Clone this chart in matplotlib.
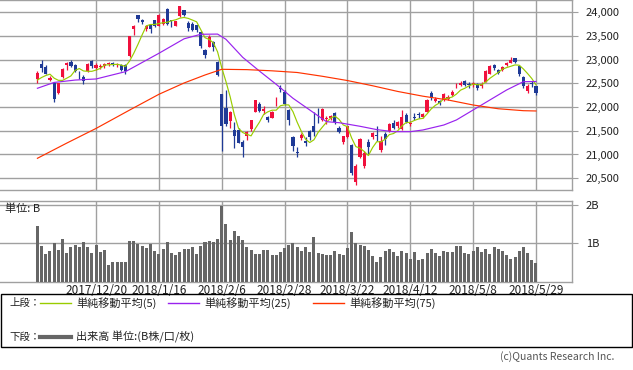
import matplotlib
matplotlib.use("Agg")
import matplotlib.pyplot as plt
import numpy as np
import pandas as pd
from matplotlib.lines import Line2D
from matplotlib.patches import Rectangle

plt.rcParams['font.family'] = ['Noto Sans CJK JP', 'DejaVu Sans']

# trading days shown on the chart
dates = (["2017/11/30"]
         + ["2017/12/%d" % d for d in [1, 4, 5, 6, 7, 8, 11, 12, 13, 14, 15, 18, 19, 20, 21, 22, 25, 26, 27, 28, 29]]
         + ["2018/1/%d" % d for d in [4, 5, 9, 10, 11, 12, 15, 16, 17, 18, 19, 22, 23, 24, 25, 26, 29, 30, 31]]
         + ["2018/2/%d" % d for d in [1, 2, 5, 6, 7, 8, 9, 13, 14, 15, 16, 19, 20, 21, 22, 23, 26, 27, 28]]
         + ["2018/3/%d" % d for d in [1, 2, 5, 6, 7, 8, 9, 12, 13, 14, 15, 16, 19, 20, 22, 23, 26, 27, 28, 29, 30]]
         + ["2018/4/%d" % d for d in [2, 3, 4, 5, 6, 9, 10, 11, 12, 13, 16, 17, 18, 19, 20, 23, 24, 25, 26, 27]]
         + ["2018/5/%d" % d for d in [1, 2, 7, 8, 9, 10, 11, 14, 15, 16, 17, 18, 21, 22, 23, 24, 25, 28, 29]])

opens = [22597, 22916, 22855, 22570, 22515, 22300, 22630, 22890, 22958, 22880,
         22705, 22640, 22765, 22980, 22830, 22840, 22860, 22905, 22930, 22880,
         22890, 22890, 23073, 23643, 23948, 23833, 23656, 23731, 23827, 23721,
         23755, 24078, 23835, 23720, 23920, 24044, 23770, 23750, 23730, 23590,
         23200, 23276, 23380, 22958, 22270, 21990, 21700, 21520, 21520, 21270,
         21380, 21530, 21903, 22065, 21925, 21800, 21765, 22140, 22395, 22325,
         21940, 21363, 21060, 21340, 21280, 21500, 21600, 21830, 21730, 21740,
         21760, 21884, 21550, 21270, 21363, 21201, 20429, 20954, 20757, 21270,
         21375, 21411, 21095, 21432, 21500, 21658, 21600, 21530, 21833, 21640,
         21790, 21850, 21800, 21903, 22291, 22130, 22130, 22150, 22180, 22255,
         22460, 22460, 22557, 22480, 22470, 22487, 22450, 22536, 22698, 22888,
         22783, 22783, 22888, 22937, 23030, 22867, 22641, 22346, 22500, 22445]
highs = [22760, 22994, 22880, 22650, 22530, 22515, 22820, 22960, 22995, 22900,
         22770, 22680, 22920, 22990, 22935, 22900, 22920, 22950, 22950, 22925,
         22910, 22900, 23506, 23730, 23952, 23864, 23734, 23759, 23833, 23962,
         23885, 24084, 23837, 23825, 24129, 24050, 23820, 23787, 23740, 23600,
         23220, 23513, 23400, 22970, 22280, 22360, 21920, 21690, 21550, 21300,
         21500, 21730, 22150, 22100, 22030, 21810, 21920, 22220, 22466, 22350,
         21950, 21380, 21165, 21460, 21375, 21520, 21890, 21975, 21980, 21820,
         21830, 21900, 21600, 21400, 21600, 21220, 20800, 21350, 21080, 21320,
         21480, 21600, 21380, 21480, 21660, 21720, 21700, 21940, 21880, 21700,
         21870, 21900, 21880, 22180, 22330, 22220, 22150, 22290, 22260, 22350,
         22500, 22560, 22570, 22520, 22530, 22500, 22520, 22780, 22888, 22900,
         22800, 22860, 22960, 23050, 23040, 22880, 22650, 22480, 22560, 22450]
lows = [22510, 22750, 22690, 22540, 22114, 22280, 22610, 22780, 22840, 22730,
        22600, 22480, 22750, 22830, 22790, 22800, 22830, 22870, 22860, 22850,
        22760, 22700, 23065, 23520, 23789, 23755, 23601, 23570, 23685, 23701,
        23740, 23737, 23690, 23700, 23890, 23920, 23600, 23600, 23590, 23240,
        23030, 23260, 23190, 22660, 21078, 21600, 21560, 21130, 21240, 20950,
        21300, 21500, 21900, 21900, 21860, 21680, 21760, 22025, 22325, 22040,
        21622, 21080, 20940, 21300, 21180, 21300, 21400, 21658, 21700, 21640,
        21720, 21640, 21450, 21230, 21340, 20560, 20347, 20930, 20720, 21020,
        21320, 21280, 21050, 21200, 21480, 21540, 21560, 21510, 21660, 21600,
        21720, 21780, 21780, 21890, 22150, 22100, 22040, 22130, 22150, 22230,
        22400, 22450, 22440, 22400, 22430, 22360, 22400, 22530, 22690, 22790,
        22700, 22760, 22870, 22920, 22920, 22660, 22400, 22290, 22420, 22250]
closes = [22724, 22819, 22707, 22622, 22177, 22498, 22811, 22938, 22866, 22758,
          22694, 22553, 22901, 22868, 22891, 22866, 22902, 22939, 22892, 22911,
          22783, 22764, 23506, 23714, 23849, 23788, 23710, 23653, 23714, 23951,
          23868, 23763, 23808, 23816, 24124, 23940, 23669, 23631, 23629, 23291,
          23098, 23486, 23274, 22682, 21610, 21645, 21890, 21382, 21244, 21154,
          21464, 21720, 22149, 21925, 21970, 21736, 21892, 22153, 22389, 22068,
          21724, 21181, 21042, 21417, 21252, 21368, 21469, 21824, 21968, 21777,
          21803, 21676, 21480, 21380, 21591, 20617, 20766, 21317, 21031, 21159,
          21454, 21388, 21292, 21319, 21645, 21567, 21678, 21794, 21687, 21660,
          21778, 21835, 21847, 22158, 22191, 22162, 22088, 22278, 22215, 22319,
          22467, 22508, 22472, 22467, 22508, 22408, 22497, 22758, 22865, 22818,
          22717, 22838, 22930, 23002, 22960, 22689, 22437, 22450, 22481, 22290]
# last four closes before the window, needed for the first 5-day averages
prev_closes = [22551, 22496, 22486, 22597]

# volume, billions of shares
volume = [1.46, 0.93, 0.71, 0.79, 1.00, 0.82, 1.12, 0.74, 0.90, 0.95,
          0.90, 1.03, 0.90, 0.74, 0.95, 0.77, 0.82, 0.44, 0.50, 0.50,
          0.52, 0.50, 1.06, 1.06, 0.98, 0.93, 0.87, 0.98, 0.79, 0.71,
          0.85, 1.03, 0.74, 0.68, 0.77, 0.85, 0.85, 0.90, 0.71, 0.93,
          1.03, 1.06, 1.03, 1.12, 1.97, 1.49, 1.09, 1.33, 1.20, 1.09,
          0.90, 0.82, 0.71, 0.71, 0.82, 0.82, 0.68, 0.68, 0.77, 0.87,
          0.95, 1.01, 0.90, 0.79, 0.90, 0.77, 1.17, 0.74, 0.71, 0.68,
          0.68, 0.79, 0.71, 0.68, 0.87, 1.28, 1.01, 0.95, 0.93, 0.82,
          0.66, 0.50, 0.64, 0.79, 0.84, 0.77, 0.66, 0.79, 0.74, 0.60,
          0.77, 0.55, 0.60, 0.74, 0.84, 0.74, 0.66, 0.79, 0.77, 0.77,
          0.93, 0.93, 0.74, 0.71, 0.79, 0.90, 0.77, 0.84, 0.71, 0.90,
          0.84, 0.79, 0.68, 0.60, 0.64, 0.79, 0.90, 0.74, 0.55, 0.47]

# 25/75-day averages depend on history before the window
ma25_idx = [0, 4, 9, 14, 21, 29, 35, 39, 43, 45, 49, 53, 57, 61, 65, 69, 72, 77,
            81, 85, 89, 92, 97, 100, 104, 108, 112, 116, 119]
ma25_val = [22397, 22520, 22570, 22593, 22747, 23135, 23440, 23536, 23540, 23430,
            23050, 22760, 22480, 22186, 21939, 21692, 21671, 21595, 21525, 21481,
            21481, 21517, 21622, 21728, 21939, 22150, 22361, 22536, 22540]
ma75_idx = [0, 7, 14, 22, 29, 35, 40, 44, 50, 56, 62, 68, 74, 80, 86, 92, 98,
            104, 110, 116, 119]
ma75_val = [20920, 21240, 21550, 21937, 22270, 22508, 22677, 22797, 22790, 22765,
            22730, 22650, 22560, 22450, 22330, 22230, 22150, 22044, 21965, 21924, 21918]

tick_idx = [14, 29, 44, 59, 74, 89, 104, 119]

UP = "#f0103c"
DOWN = "#1f3a96"
GRID = "#a0a0a0"
C5, C25, C75 = "#99cc00", "#9922ee", "#ff3300"

W, H = 633, 370
fig = plt.figure(figsize=(W / 100, H / 100), dpi=100)
ax = fig.add_axes([0, 1 - 190 / H, 572 / W, 190 / H])
axv = fig.add_axes([0, 1 - 281.5 / H, 572 / W, 80.5 / H])

x = np.arange(len(closes))
o, h, l, c = map(np.array, (opens, highs, lows, closes))
ma5 = pd.Series(prev_closes + closes).rolling(5).mean().to_numpy()[len(prev_closes):]

# candles
cols = np.where(c >= o, UP, DOWN)
ax.vlines(x, l, h, colors=cols, lw=0.9, zorder=3)
body = np.maximum(np.abs(c - o), 12)
ax.bar(x, body, bottom=np.minimum(o, c), width=0.75, color=cols, lw=0, zorder=3)

ax.plot(x, ma5, color=C5, lw=0.85, zorder=4)
ax.plot(ma25_idx, ma25_val, color=C25, lw=0.85, zorder=4)
ax.plot(ma75_idx, ma75_val, color=C75, lw=0.85, zorder=4)

ax.set_xlim(-8.93, 127.6)
ax.set_ylim(20251, 24259)
ax.set_yticks(np.arange(20500, 24001, 500))
ax.set_yticklabels([f"{v:,}" for v in range(20500, 24001, 500)])
ax.set_xticks(tick_idx)
ax.set_xticklabels([])

# volume
axv.bar(x, volume, width=0.72, color="#666666", lw=0, zorder=3)
axv.set_xlim(-8.93, 127.6)
axv.set_ylim(0, 2.1)
axv.set_yticks([1, 2])
axv.set_yticklabels(["1B", "2B"])
axv.set_xticks(tick_idx)
axv.set_xticklabels([dates[i] for i in tick_idx])

for a in (ax, axv):
    a.grid(True, color=GRID, lw=1, zorder=0)
    a.set_axisbelow(True)
    a.yaxis.tick_right()
    a.tick_params(axis="y", length=4, color=GRID, labelsize=8, pad=6, labelcolor="#222222")
    a.tick_params(axis="x", length=0, labelsize=8.5, pad=2, labelcolor="#222222")
    a.spines["left"].set_visible(False)
    for s in ("top", "right", "bottom"):
        a.spines[s].set_color(GRID)
        a.spines[s].set_linewidth(1)

fig.text(5 / W, 1 - 209 / H, "単位: B", fontsize=8, va="center", color="#222222")

# legend box
fig.add_artist(Rectangle((1 / W, 1 - 347 / H), 631 / W, 53 / H, transform=fig.transFigure,
                         fill=False, edgecolor="black", lw=1))
y1, y2 = 1 - 303 / H, 1 - 337 / H
fig.text(9 / W, y1, "上段：", fontsize=7.5, va="center", color="#222222")
fig.text(9 / W, y2, "下段：", fontsize=7.5, va="center", color="#222222")
for x0, col, lab in [(40, C5, "単純移動平均(5)"), (168, C25, "単純移動平均(25)"),
                     (313, C75, "単純移動平均(75)")]:
    fig.add_artist(Line2D([x0 / W, (x0 + 31) / W], [y1, y1], transform=fig.transFigure,
                          color=col, lw=1))
    fig.text((x0 + 36) / W, y1, lab, fontsize=8, va="center", color="#222222")
fig.add_artist(Line2D([40 / W, 71 / W], [y2, y2], transform=fig.transFigure,
                      color="#666666", lw=3))
fig.text(76 / W, y2, "出来高 単位:(B株/口/枚)", fontsize=8, va="center", color="#222222")

fig.text(614 / W, 1 - 357 / H, "(c)Quants Research Inc.", fontsize=7.5, ha="right",
         va="center", color="#555555")

fig.savefig("out.png", dpi=100)
